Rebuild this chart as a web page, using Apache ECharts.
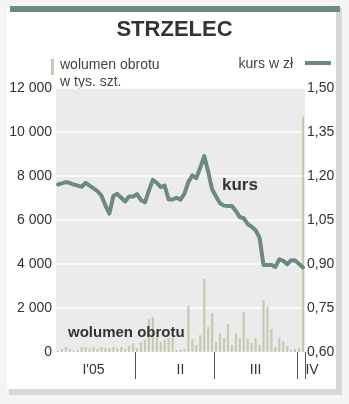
<!DOCTYPE html>
<html><head><meta charset="utf-8">
<script src="https://cdn.jsdelivr.net/npm/echarts@6/dist/echarts.min.js"></script>
<style>html,body{margin:0;padding:0;background:#f4f4f4}#c{width:349px;height:404px}</style>
</head><body><div id="c"></div>
<script>
const title = 'STRZELEC';
const quarterNames = ["I'05", 'II', 'III', 'IV'];
const barsPerQuarter = [20, 20, 21, 2];
const volumeTicks = [0, 2000, 4000, 6000, 8000, 10000, 12000];
const priceTicks = [0.60, 0.75, 0.90, 1.05, 1.20, 1.35, 1.50];
// wolumen obrotu, tys. szt.
const volQ1 = [50,140,230,140,50,90,230,230,180,230,140,230,180,180,230,180,230,140,270,400];
const volQ2 = [180,450,550,1500,1600,680,450,550,640,680,90,90,140,2090,590,320,770,3320,1140,1770];
const volQ3 = [450,860,640,1270,320,860,640,1820,590,410,640,320,2360,2050,1050,230,640,500,270,90,140];
const volQ4 = [180,10700];
// kurs w zł
const price = [1.171,1.175,1.179,1.176,1.171,1.167,1.163,1.177,1.167,1.158,1.148,1.133,1.100,1.072,1.132,1.139,1.126,1.113,1.130,1.130,
  1.138,1.118,1.110,1.150,1.187,1.177,1.162,1.167,1.120,1.120,1.126,1.119,1.140,1.180,1.202,1.193,1.228,1.268,1.215,1.155,
  1.130,1.107,1.099,1.098,1.098,1.081,1.060,1.056,1.036,1.027,1.015,0.990,0.897,0.897,0.897,0.890,0.916,0.911,0.899,0.913,0.912,
  0.900,0.888];

const volume = volQ1.concat(volQ2, volQ3, volQ4);
const categories = volume.map((_, i) => String(i));
const starts = []; { let s = 0; barsPerQuarter.forEach(n => { starts.push(s); s += n; }); }
const labelAt = {9: 0, 31: 1, 50: 2, 62: 3};
const dividerAt = starts.slice(1);

const C = { line: '#6c8a80', bar: '#c9c8b4', plot: '#ebebeb', text: '#333' };
const chart = echarts.init(document.getElementById('c'), null, {renderer: 'canvas'});
chart.setOption({
  animation: false,
  backgroundColor: '#f4f4f4',
  graphic: [
    {type: 'rect', z: -10, shape: {x: 9, y: 8, width: 333, height: 387}, style: {fill: '#d8d8d8'}},
    {type: 'rect', z: -9, shape: {x: 7, y: 6, width: 329, height: 383}, style: {fill: '#ffffff'}},
    {type: 'rect', z: 5, shape: {x: 10, y: 6, width: 330, height: 6}, style: {fill: C.line}},
    {type: 'text', left: 'center', top: 19, style: {text: title, font: 'bold 22px "Liberation Sans", Arial', fill: C.text, letterSpacing: -1.8}},
    {type: 'rect', shape: {x: 51, y: 59, width: 3, height: 16}, style: {fill: C.bar}},
    {type: 'text', x: 60, y: 57, style: {text: 'wolumen obrotu\nw tys. szt.', font: '14px "Liberation Sans", Arial', fill: '#444', lineHeight: 17}},
    {type: 'text', x: 293, y: 57, style: {text: 'kurs w zł', font: '14px "Liberation Sans", Arial', fill: '#444', align: 'right'}},
    {type: 'rect', shape: {x: 305, y: 61, width: 26, height: 4}, style: {fill: C.line}},
    {type: 'text', x: 222, y: 177, z: 10, style: {text: 'kurs', font: 'bold 17px "Liberation Sans", Arial', fill: C.text, letterSpacing: 1.5}},
    {type: 'text', x: 68, y: 325, z: 10, style: {text: 'wolumen obrotu', font: 'bold 15px "Liberation Sans", Arial', fill: C.text, letterSpacing: 0.7}}
  ],
  grid: {left: 56, right: 44, top: 88, bottom: 52, show: true, backgroundColor: C.plot, borderWidth: 0},
  xAxis: {
    type: 'category', data: categories, boundaryGap: true,
    axisLine: {show: false},
    axisTick: {show: true, length: 27, lineStyle: {color: '#555', width: 1}, interval: (i) => dividerAt.includes(i)},
    axisLabel: {
      interval: (i) => labelAt[i] !== undefined, margin: 11, fontSize: 14, color: C.text,
      fontFamily: '"Liberation Sans", Arial',
      formatter: (v, i) => labelAt[i] === 3 ? '{iv|' + quarterNames[3] + '}' : quarterNames[labelAt[i]],
      rich: {iv: {padding: [0, 0, 0, 18], fontSize: 14, color: C.text}}
    }
  },
  yAxis: [
    {type: 'value', min: volumeTicks[0], max: volumeTicks[volumeTicks.length - 1], interval: volumeTicks[1] - volumeTicks[0],
      axisLine: {show: false}, axisTick: {show: false},
      splitLine: {show: true, lineStyle: {color: '#ffffff', width: 1.5}},
      axisLabel: {margin: 4, fontSize: 14, color: C.text, fontFamily: '"Liberation Sans", Arial',
        formatter: v => v >= 1000 ? Math.floor(v / 1000) + ' ' + String(v % 1000).padStart(3, '0') : String(v)}},
    {type: 'value', min: priceTicks[0], max: priceTicks[priceTicks.length - 1], interval: 0.15,
      axisLine: {show: false}, axisTick: {show: false}, splitLine: {show: false},
      axisLabel: {margin: 2, fontSize: 14, color: C.text, fontFamily: '"Liberation Sans", Arial',
        formatter: v => v.toFixed(2).replace('.', ',')}}
  ],
  series: [
    {type: 'bar', data: volume, yAxisIndex: 0, barWidth: 2.2, itemStyle: {color: C.bar}},
    {type: 'line', data: price, yAxisIndex: 1, symbol: 'none', lineStyle: {color: C.line, width: 4, join: 'round', cap: 'round'}, z: 3}
  ]
});
</script></body></html>
